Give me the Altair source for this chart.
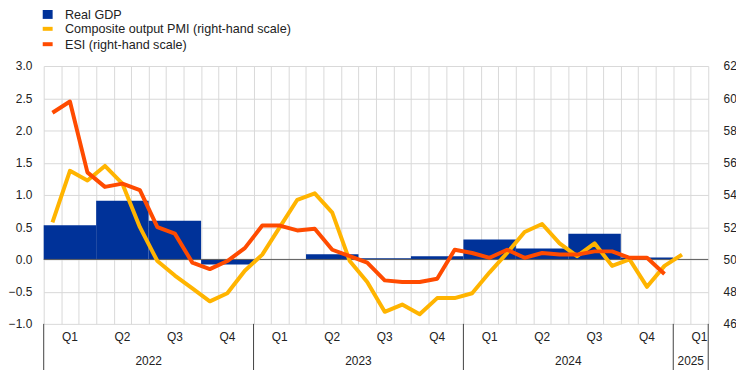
import altair as alt
import pandas as pd

# ---------------- data ----------------
quarters = ["Q1", "Q2", "Q3", "Q4"]
years = ["2022", "2023", "2024", "2025"]

# Real GDP, quarter-on-quarter % (left scale), Q1 2022 .. Q4 2024
gdp = [0.53, 0.91, 0.60, -0.08, 0.00, 0.08, 0.02, 0.05, 0.31, 0.17, 0.40, 0.03]

# Composite output PMI, monthly Jan 2022 .. Jan 2025 (right scale)
pmi = [52.3, 55.5, 54.9, 55.8, 54.7, 52.0, 49.9, 49.0, 48.2, 47.4, 47.9, 49.3,
       50.3, 52.0, 53.7, 54.1, 52.9, 49.9, 48.6, 46.75, 47.2, 46.6, 47.6, 47.6,
       47.9, 49.2, 50.4, 51.7, 52.2, 51.0, 50.2, 51.0, 49.6, 50.0, 48.3, 49.6,
       50.3]

# ESI (rescaled), monthly Jan 2022 .. Dec 2024 (right scale)
esi = [59.1, 59.8, 55.4, 54.5, 54.7, 54.3, 52.0, 51.6, 49.8, 49.4, 49.9, 50.7,
       52.1, 52.1, 51.8, 51.9, 50.6, 50.2, 49.8, 48.7, 48.6, 48.6, 48.8, 50.6,
       50.4, 50.1, 50.6, 50.1, 50.4, 50.3, 50.3, 50.5, 50.5, 50.1, 50.1, 49.1]

n_months = 38  # Jan 2022 .. Feb 2025

# ---------------- styling ----------------
BLUE = "#003299"
YELLOW = "#ffb400"
ORANGE = "#ff4b00"
GRID = "#d9d9d9"
TXT = "#222222"
FONT = "Liberation Sans"
W, H = 670, 260

gdp_df = pd.DataFrame({
    "start": [3 * i for i in range(len(gdp))],
    "end": [3 * i + 3 for i in range(len(gdp))],
    "v": gdp,
})
zero_df = pd.DataFrame({"v": [0.0]})
pmi_df = pd.DataFrame({"m": [i + 0.5 for i in range(len(pmi))], "v": pmi})
esi_df = pd.DataFrame({"m": [i + 0.5 for i in range(len(esi))], "v": esi})

q_labels = [quarters[i % 4] for i in range(13)]
q_pos = [3 * i + 1.5 for i in range(13)]
q_df = pd.DataFrame({"pos": q_pos, "label": q_labels})
y_df = pd.DataFrame({"pos": [6, 18, 30, 37], "label": years})
sep_df = pd.DataFrame({"pos": [0, 12, 24, 36, 38]})

xscale = alt.Scale(domain=[0, n_months], nice=False, zero=False)
xaxis = alt.Axis(values=list(range(n_months + 1)), grid=True, gridColor=GRID,
                 gridWidth=1, labels=False, ticks=False, domain=False, title=None)


def X(field):
    return alt.X(field, type="quantitative", scale=xscale, axis=xaxis)


lscale = alt.Scale(domain=[-1, 3], nice=False, zero=False)
laxis = alt.Axis(values=[-1, -0.5, 0, 0.5, 1, 1.5, 2, 2.5, 3], format=".1f",
                 grid=True, gridColor=GRID, gridWidth=1, ticks=False,
                 domain=False, title=None, labelPadding=12, labelFontSize=12,
                 labelFont=FONT, labelColor=TXT)
rscale = alt.Scale(domain=[46, 62], nice=False, zero=False)
raxis = alt.Axis(orient="right", values=list(range(46, 63, 2)), format="d",
                 grid=False, ticks=False, domain=False, title=None,
                 labelPadding=15, labelFontSize=12, labelFont=FONT,
                 labelColor=TXT)

bars = alt.Chart(gdp_df).mark_rect(color=BLUE).encode(
    x=X("start"), x2=alt.X2("end"),
    y=alt.Y("v:Q", scale=lscale, axis=laxis), y2=alt.datum(0))
zero_rule = alt.Chart(zero_df).mark_rule(color="#595959", strokeWidth=1).encode(
    y=alt.Y("v:Q", scale=lscale, axis=laxis))
left = alt.layer(bars, zero_rule)

pmi_line = alt.Chart(pmi_df).mark_line(color=YELLOW, strokeWidth=4,
                                       strokeJoin="round").encode(
    x=X("m"), y=alt.Y("v:Q", scale=rscale, axis=raxis))
esi_line = alt.Chart(esi_df).mark_line(color=ORANGE, strokeWidth=4,
                                       strokeJoin="round").encode(
    x=X("m"), y=alt.Y("v:Q", scale=rscale, axis=raxis))
right = alt.layer(pmi_line, esi_line)

qtext = alt.Chart(q_df).mark_text(fontSize=12, font=FONT, color=TXT,
                                  baseline="middle", align="center").encode(
    x=X("pos"), y=alt.value(273.5), text="label:N")
ytext = alt.Chart(y_df).mark_text(fontSize=12, font=FONT, color=TXT,
                                  baseline="middle", align="center").encode(
    x=X("pos"), y=alt.value(297), text="label:N")
seps = alt.Chart(sep_df).mark_rule(color="#404040", strokeWidth=1).encode(
    x=X("pos"), y=alt.value(260), y2=alt.value(307))

one = pd.DataFrame({"a": [0]})


def swatch(color, y0, y1):
    return alt.Chart(one).mark_rect(color=color).encode(
        x=alt.value(-1), x2=alt.value(9), y=alt.value(y0), y2=alt.value(y1))


def ltext(label, y):
    return alt.Chart(one).mark_text(text=label, fontSize=12.7, font=FONT,
                                    color=TXT, align="left",
                                    baseline="middle").encode(
        x=alt.value(21.5), y=alt.value(y))


legend = alt.layer(
    swatch(BLUE, -56.5, -47.5), ltext("Real GDP", -51.5),
    swatch(YELLOW, -39.5, -35.5), ltext("Composite output PMI (right-hand scale)", -37),
    swatch(ORANGE, -24, -20), ltext("ESI (right-hand scale)", -21.5),
)

chart = alt.layer(left, right, seps, qtext, ytext, legend).resolve_scale(
    y="independent"
).properties(
    width=W, height=H,
    autosize=alt.AutoSizeParams(type="none"),
    padding={"left": 36, "top": 57, "right": 28, "bottom": 45},
    background="white",
).configure_view(stroke=None)

chart.save("out.html", embed_options={"renderer": "svg", "actions": False})
